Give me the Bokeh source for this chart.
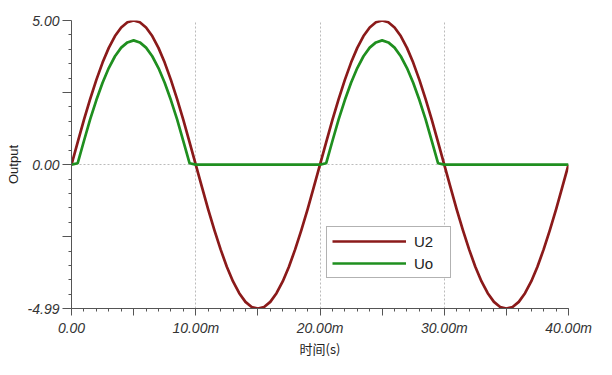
from bokeh.plotting import figure
from bokeh.models import FixedTicker, Legend, LegendItem, Label, Grid, ColumnDataSource
from bokeh.embed import file_html
from bokeh.resources import INLINE

# time axis in ms (0 .. 40 ms, 0.5 ms steps)
t_ms = [i * 0.5 for i in range(81)]

u2_pos = [0.78, 1.55, 2.27, 2.94, 3.54, 4.05, 4.46, 4.76, 4.94, 5.00,
          4.94, 4.76, 4.46, 4.05, 3.54, 2.94, 2.27, 1.55, 0.78, 0.0]
u2_neg = [-0.78, -1.55, -2.27, -2.94, -3.54, -4.05, -4.46, -4.76, -4.94, -4.99,
          -4.94, -4.76, -4.46, -4.05, -3.54, -2.94, -2.27, -1.55, -0.78, 0.0]
u2 = [0.0] + u2_pos + u2_neg + u2_pos + u2_neg

uo_pos = [0.05, 0.82, 1.57, 2.24, 2.84, 3.35, 3.76, 4.06, 4.24, 4.31,
          4.24, 4.06, 3.76, 3.35, 2.84, 2.24, 1.57, 0.82, 0.05, 0.0]
uo_neg = [0.0] * 20
uo = [0.0] + uo_pos + uo_neg + uo_pos + uo_neg

x_major = [0, 5, 10, 15, 20, 25, 30, 35, 40]
x_labels = {0: "0.00", 5: "", 10: "10.00m", 15: "", 20: "20.00m", 25: "",
            30: "30.00m", 35: "", 40: "40.00m"}
y_major = [-4.99, -2.5, 0, 2.5, 5.0]
y_labels = {-4.99: "-4.99", -2.5: "", 0: "0.00", 2.5: "", 5.0: "5.00"}

src = ColumnDataSource(dict(t=t_ms, u2=u2, uo=uo))

p = figure(width=596, height=362, output_backend="svg", toolbar_location=None,
           x_range=(0, 40), y_range=(-4.99, 5.0),
           min_border_left=71, min_border_right=28, min_border_top=20, min_border_bottom=54)
p.outline_line_color = None
p.background_fill_color = "white"
p.border_fill_color = "white"

r1 = p.line("t", "u2", source=src, line_color="#8b1a1a", line_width=2.7, line_join="round")
r2 = p.line("t", "uo", source=src, line_color="#1f8f1f", line_width=2.7, line_join="round")

font = "Liberation Sans"
for ax in (p.xaxis[0], p.yaxis[0]):
    ax.axis_line_color = "#555555"
    ax.major_tick_line_color = "#555555"
    ax.minor_tick_line_color = "#555555"
    ax.major_label_text_font = font
    ax.major_label_text_font_style = "italic"
    ax.major_label_text_font_size = "14px"
    ax.major_label_text_color = "#333333"
    ax.axis_label_text_font_style = "normal"
    ax.axis_label_text_color = "#222222"
    ax.major_tick_in = 0
    ax.minor_tick_in = 0
    ax.minor_tick_out = 3

p.xaxis.ticker = FixedTicker(ticks=x_major, minor_ticks=list(range(41)))
p.xaxis.major_label_overrides = x_labels
p.xaxis.major_tick_out = 7
p.xaxis.axis_label = "时间(s)"
p.xaxis.axis_label_text_font = "Noto Sans CJK SC"
p.xaxis.axis_label_text_font_size = "13px"
p.xaxis.axis_label_standoff = 0
p.xaxis.major_label_standoff = 4

p.yaxis.ticker = FixedTicker(ticks=y_major,
                             minor_ticks=[-4.5, -4.0, -3.5, -3.0, -2.0, -1.5, -1.0, -0.5,
                                          0.5, 1.0, 1.5, 2.0, 3.0, 3.5, 4.0, 4.5])
p.yaxis.major_label_overrides = y_labels
p.yaxis.major_tick_out = 9
p.yaxis.axis_label = "Output"
p.yaxis.axis_label_text_font = font
p.yaxis.axis_label_text_font_size = "13px"
p.yaxis.axis_label_standoff = 4
p.yaxis.major_label_standoff = 3

p.xgrid.ticker = FixedTicker(ticks=[10, 20, 30, 40])
p.xgrid.grid_line_color = "#bbbbbb"
p.xgrid.grid_line_dash = "2 2"
p.ygrid.ticker = FixedTicker(ticks=[0])
p.ygrid.grid_line_color = "#bbbbbb"
p.ygrid.grid_line_dash = "2 2"
p.add_layout(Grid(dimension=1, ticker=FixedTicker(ticks=[5.0]), grid_line_color="#cccccc"))

legend = Legend(items=[LegendItem(label="U2", renderers=[r1]),
                       LegendItem(label="Uo", renderers=[r2])],
                location=(255, 30), orientation="vertical",
                glyph_width=74, glyph_height=18, label_height=18, label_width=31,
                label_standoff=8, padding=5, spacing=4, margin=0,
                label_text_font=font, label_text_font_size="15px", label_text_color="#222222",
                border_line_color="#666666", border_line_width=1,
                background_fill_color="white", background_fill_alpha=1.0)
p.add_layout(legend)

wm = Label(x=375, y=-55, x_units="screen", y_units="screen", text="CSDN @情系淮思",
           text_font="Noto Sans CJK SC", text_font_size="16px", text_color="#9c9c9c")
p.add_layout(wm)

open("out.html", "w").write(file_html(p, INLINE))
